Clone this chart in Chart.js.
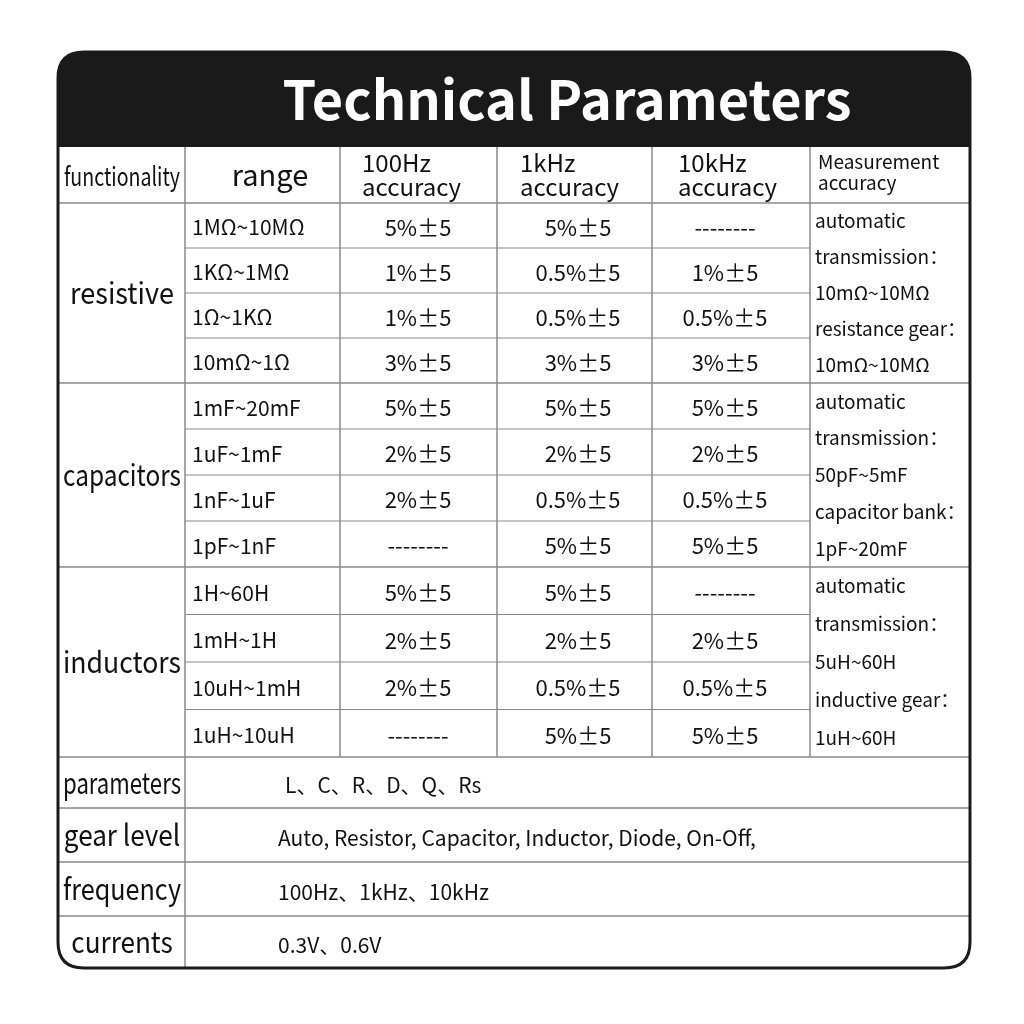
<!DOCTYPE html>
<html>
<head>
<meta charset="utf-8">
<script src="https://cdn.jsdelivr.net/npm/chart.js@4/dist/chart.umd.min.js"></script>
<style>
  html, body { margin: 0; padding: 0; background: #fff; }
  canvas { display: block; }
</style>
</head>
<body>
<canvas id="c" width="1024" height="1024"></canvas>
<script>
/* ── Datos de la tabla ── */
const title = 'Technical Parameters';
const headers = ['functionality', 'range', '100Hz\naccuracy', '1kHz\naccuracy', '10kHz\naccuracy', 'Measurement\naccuracy'];
const groups = ['resistive', 'capacitors', 'inductors'];
const ranges = [
  ['1MΩ~10MΩ', '1KΩ~1MΩ', '1Ω~1KΩ', '10mΩ~1Ω'],
  ['1mF~20mF', '1uF~1mF', '1nF~1uF', '1pF~1nF'],
  ['1H~60H', '1mH~1H', '10uH~1mH', '1uH~10uH'],
];
const acc100 = [
  ['5%±5', '1%±5', '1%±5', '3%±5'],
  ['5%±5', '2%±5', '2%±5', '--------'],
  ['5%±5', '2%±5', '2%±5', '--------'],
];
const acc1k = [
  ['5%±5', '0.5%±5', '0.5%±5', '3%±5'],
  ['5%±5', '2%±5', '0.5%±5', '5%±5'],
  ['5%±5', '2%±5', '0.5%±5', '5%±5'],
];
const acc10k = [
  ['--------', '1%±5', '0.5%±5', '3%±5'],
  ['5%±5', '2%±5', '0.5%±5', '5%±5'],
  ['--------', '2%±5', '0.5%±5', '5%±5'],
];
const notes = [
  ['automatic', 'transmission：', '10mΩ~10MΩ', 'resistance gear：', '10mΩ~10MΩ'],
  ['automatic', 'transmission：', '50pF~5mF', 'capacitor bank：', '1pF~20mF'],
  ['automatic', 'transmission：', '5uH~60H', 'inductive gear：', '1uH~60H'],
];
const extraLabels = ['parameters', 'gear level', 'frequency', 'currents'];
const extraValues = ['L、C、R、D、Q、Rs', 'Auto, Resistor, Capacitor, Inductor, Diode, On-Off,', '100Hz、1kHz、10kHz', '0.3V、0.6V'];

/* ── Geometría (en unidades de la escala 0..1024) ── */
const groupY = [203, 383, 567, 757];
const extraY = [757, 808, 862, 916, 968];
const FONT = '"Noto Sans CJK SC", "Noto Sans", sans-serif';

const tablePlugin = {
  id: 'tabla',
  afterDraw(chart) {
    const ctx = chart.ctx;
    const sx = chart.scales.x, sy = chart.scales.y;
    const X = v => sx.getPixelForValue(v);
    const Y = v => sy.getPixelForValue(v);
    const line = (x1, y1, x2, y2, col, w) => {
      ctx.strokeStyle = col; ctx.lineWidth = w;
      ctx.beginPath(); ctx.moveTo(X(x1), Y(y1)); ctx.lineTo(X(x2), Y(y2)); ctx.stroke();
    };
    const text = (s, x, y, size, align, weight, color) => {
      ctx.font = `${weight || 'normal'} ${size}px ${FONT}`;
      ctx.fillStyle = color || '#111';
      ctx.textAlign = align || 'left';
      ctx.textBaseline = 'middle';
      ctx.fillText(s, X(x), Y(y));
    };
    // texto comprimido para la primera columna
    const fitText = (s, cx, cy, size, maxW) => {
      ctx.save();
      ctx.font = `${size}px ${FONT}`;
      const w = ctx.measureText(s).width;
      ctx.translate(X(cx), Y(cy));
      ctx.scale(Math.min(0.9, maxW / w), 1);
      ctx.fillStyle = '#111'; ctx.textAlign = 'center'; ctx.textBaseline = 'middle';
      ctx.fillText(s, 0, 0);
      ctx.restore();
    };
    ctx.save();

    // Cabecera negra redondeada
    const r = 26;
    const L = X(58), R = X(970), T = Y(52), B = Y(968);
    ctx.beginPath();
    ctx.moveTo(L + r, T); ctx.lineTo(R - r, T); ctx.quadraticCurveTo(R, T, R, T + r);
    ctx.lineTo(R, Y(147)); ctx.lineTo(L, Y(147)); ctx.lineTo(L, T + r); ctx.quadraticCurveTo(L, T, L + r, T);
    ctx.fillStyle = '#1a1a1a'; ctx.fill();
    text(title, 567, 99, 54, 'center', 'bold', '#fff');

    // Líneas internas
    const grey = '#8a8a8a';
    line(58, 203, 970, 203, grey, 1.5);
    groupY.slice(1).forEach(y => line(58, y, 970, y, grey, 1.5));
    extraY.slice(1, 4).forEach(y => line(58, y, 970, y, grey, 1.5));
    line(185, 147, 185, 968, grey, 1.5);
    [340, 497, 652, 810].forEach(x => line(x, 147, x, 757, grey, 1.5));
    for (let g = 0; g < 3; g++) {
      const h = (groupY[g + 1] - groupY[g]) / 4;
      for (let i = 1; i < 4; i++) line(185, groupY[g] + h * i, 810, groupY[g] + h * i, grey, 1.2);
    }

    // Borde exterior
    ctx.beginPath();
    ctx.moveTo(L + r, T); ctx.lineTo(R - r, T); ctx.quadraticCurveTo(R, T, R, T + r);
    ctx.lineTo(R, B - r); ctx.quadraticCurveTo(R, B, R - r, B);
    ctx.lineTo(L + r, B); ctx.quadraticCurveTo(L, B, L, B - r);
    ctx.lineTo(L, T + r); ctx.quadraticCurveTo(L, T, L + r, T);
    ctx.strokeStyle = '#1a1a1a'; ctx.lineWidth = 3; ctx.stroke();

    // Encabezados
    fitText(headers[0], 122, 176, 26, 116);
    text(headers[1], 270, 175, 29, 'center');
    [[362, 2], [520, 3], [678, 4]].forEach(([x, i]) => {
      const p = headers[i].split('\n');
      text(p[0], x, 163, 24, 'left'); text(p[1], x, 187, 24, 'left');
    });
    const m = headers[5].split('\n');
    text(m[0], 818, 162, 19, 'left'); text(m[1], 818, 183, 19, 'left');

    // Grupos
    for (let g = 0; g < 3; g++) {
      const y0 = groupY[g], h = (groupY[g + 1] - y0) / 4;
      fitText(groups[g], 122, (y0 + groupY[g + 1]) / 2, 30, 118);
      for (let i = 0; i < 4; i++) {
        const cy = y0 + h * i + h / 2 + 2;
        text(ranges[g][i], 192, cy, 21, 'left');
        text(acc100[g][i], 418, cy, 22, 'center');
        text(acc1k[g][i], 578, cy, 22, 'center');
        text(acc10k[g][i], 725, cy, 22, 'center');
      }
      const nh = (groupY[g + 1] - y0) / 5;
      notes[g].forEach((s, i) => text(s, 815, y0 + nh * i + nh / 2, 19, 'left'));
    }

    // Filas finales
    for (let i = 0; i < 4; i++) {
      const cy = (extraY[i] + extraY[i + 1]) / 2;
      fitText(extraLabels[i], 122, cy, 29, 118);
      text(extraValues[i], i === 0 ? 285 : 278, cy + 3, 21, 'left');
    }
    ctx.restore();
  }
};

new Chart(document.getElementById('c').getContext('2d'), {
  type: 'scatter',
  data: { datasets: [{ data: [] }] },
  options: {
    responsive: false,
    animation: false,
    layout: { padding: 0 },
    plugins: { legend: { display: false }, tooltip: { enabled: false } },
    scales: {
      x: { type: 'linear', min: 0, max: 1024, display: false },
      y: { type: 'linear', min: 0, max: 1024, reverse: true, display: false },
    },
  },
  plugins: [tablePlugin],
});
</script>
</body>
</html>
